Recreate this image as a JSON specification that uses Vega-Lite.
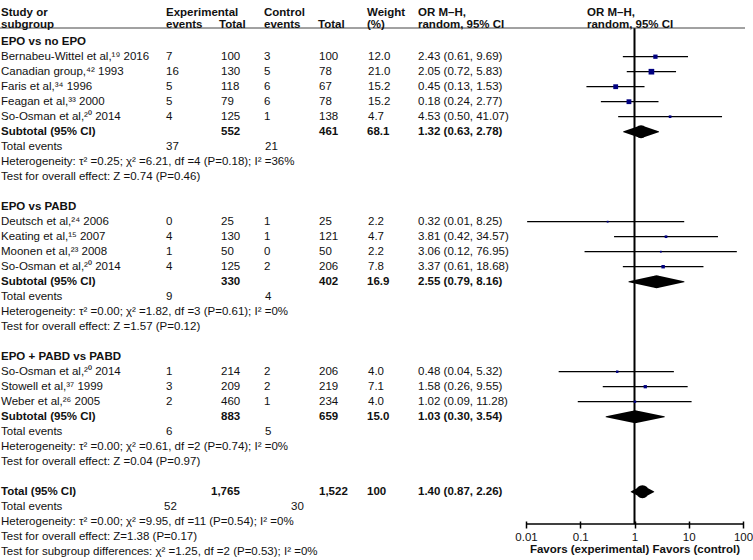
{
  "$schema": "https://vega.github.io/schema/vega-lite/v6.json",
  "width": 753,
  "height": 524,
  "autosize": {"type": "none"},
  "padding": {"left": 0, "top": 0, "right": 0, "bottom": 36},
  "background": "white",
  "config": {
    "view": {"stroke": null},
    "text": {"font": "Liberation Sans, Noto Sans", "fontSize": 11.5, "baseline": "middle", "align": "left", "lineBreak": "\n", "lineHeight": 12, "color": "#111111"}
  },
  "datasets": {
    "header": [
      {"row": -1.913, "study": "Study or\nsubgroup", "ee": "Experimental\nevents", "et": "\nTotal", "ce": "Control\nevents", "ct": "\nTotal", "w": "Weight\n(%)", "ortxt": "OR M–H,\nrandom, 95% CI", "plot": "OR M–H,\nrandom, 95% CI"}
    ],
    "groups": [
      {"row": 0, "label": "EPO vs no EPO"},
      {"row": 11, "label": "EPO vs PABD"},
      {"row": 21, "label": "EPO + PABD vs PABD"}
    ],
    "studies": [
      {"row": 1, "study": "Bernabeu-Wittel et al,¹⁹ 2016", "ee": "7", "et": "100", "ce": "3", "ct": "100", "w": 12.0, "wtxt": "12.0", "ortxt": "2.43 (0.61, 9.69)", "or": 2.43, "lo": 0.61, "hi": 9.69},
      {"row": 2, "study": "Canadian group,⁴² 1993", "ee": "16", "et": "130", "ce": "5", "ct": "78", "w": 21.0, "wtxt": "21.0", "ortxt": "2.05 (0.72, 5.83)", "or": 2.05, "lo": 0.72, "hi": 5.83},
      {"row": 3, "study": "Faris et al,³⁴ 1996", "ee": "5", "et": "118", "ce": "6", "ct": "67", "w": 15.2, "wtxt": "15.2", "ortxt": "0.45 (0.13, 1.53)", "or": 0.45, "lo": 0.13, "hi": 1.53},
      {"row": 4, "study": "Feagan et al,³³ 2000", "ee": "5", "et": "79", "ce": "6", "ct": "78", "w": 15.2, "wtxt": "15.2", "ortxt": "0.18 (0.24, 2.77)", "or": 0.79, "lo": 0.24, "hi": 2.77},
      {"row": 5, "study": "So-Osman et al,²⁰ 2014", "ee": "4", "et": "125", "ce": "1", "ct": "138", "w": 4.7, "wtxt": "4.7", "ortxt": "4.53 (0.50, 41.07)", "or": 4.53, "lo": 0.50, "hi": 41.07},
      {"row": 12, "study": "Deutsch et al,²⁴ 2006", "ee": "0", "et": "25", "ce": "1", "ct": "25", "w": 2.2, "wtxt": "2.2", "ortxt": "0.32 (0.01, 8.25)", "or": 0.32, "lo": 0.0105, "hi": 8.25},
      {"row": 13, "study": "Keating et al,¹⁵ 2007", "ee": "4", "et": "130", "ce": "1", "ct": "121", "w": 4.7, "wtxt": "4.7", "ortxt": "3.81 (0.42, 34.57)", "or": 3.81, "lo": 0.42, "hi": 34.57},
      {"row": 14, "study": "Moonen et al,²³ 2008", "ee": "1", "et": "50", "ce": "0", "ct": "50", "w": 2.2, "wtxt": "2.2", "ortxt": "3.06 (0.12, 76.95)", "or": 3.06, "lo": 0.12, "hi": 76.95},
      {"row": 15, "study": "So-Osman et al,²⁰ 2014", "ee": "4", "et": "125", "ce": "2", "ct": "206", "w": 7.8, "wtxt": "7.8", "ortxt": "3.37 (0.61, 18.68)", "or": 3.37, "lo": 0.61, "hi": 18.68},
      {"row": 22, "study": "So-Osman et al,²⁰ 2014", "ee": "1", "et": "214", "ce": "2", "ct": "206", "w": 4.0, "wtxt": "4.0", "ortxt": "0.48 (0.04, 5.32)", "or": 0.48, "lo": 0.04, "hi": 5.32},
      {"row": 23, "study": "Stowell et al,³⁷ 1999", "ee": "3", "et": "209", "ce": "2", "ct": "219", "w": 7.1, "wtxt": "7.1", "ortxt": "1.58 (0.26, 9.55)", "or": 1.58, "lo": 0.26, "hi": 9.55},
      {"row": 24, "study": "Weber et al,²⁶ 2005", "ee": "2", "et": "460", "ce": "1", "ct": "234", "w": 4.0, "wtxt": "4.0", "ortxt": "1.02 (0.09, 11.28)", "or": 1.02, "lo": 0.09, "hi": 11.28}
    ],
    "pooled": [
      {"row": 6, "label": "Subtotal (95% CI)", "et": "552", "ct": "461", "w": "68.1", "ortxt": "1.32 (0.63, 2.78)", "or": 1.32, "lo": 0.63, "hi": 2.78},
      {"row": 16, "label": "Subtotal (95% CI)", "et": "330", "ct": "402", "w": "16.9", "ortxt": "2.55 (0.79, 8.16)", "or": 2.55, "lo": 0.79, "hi": 8.16},
      {"row": 25, "label": "Subtotal (95% CI)", "et": "883", "ct": "659", "w": "15.0", "ortxt": "1.03 (0.30, 3.54)", "or": 1.03, "lo": 0.30, "hi": 3.54},
      {"row": 30, "label": "Total (95% CI)", "et": "1,765", "ct": "1,522", "w": "100", "ortxt": "1.40 (0.87, 2.26)", "or": 1.40, "lo": 0.87, "hi": 2.26}
    ],
    "events": [
      {"row": 7, "label": "Total events", "ee": "37", "ce": "21"},
      {"row": 17, "label": "Total events", "ee": "9", "ce": "4"},
      {"row": 26, "label": "Total events", "ee": "6", "ce": "5"},
      {"row": 31, "label": "Total events", "ee": "52", "ce": "30"}
    ],
    "notes": [
      {"row": 8, "label": "Heterogeneity: τ² =0.25; χ² =6.21, df =4 (P=0.18); I² =36%"},
      {"row": 9, "label": "Test for overall effect: Z =0.74 (P=0.46)"},
      {"row": 18, "label": "Heterogeneity: τ² =0.00; χ² =1.82, df =3 (P=0.61); I² =0%"},
      {"row": 19, "label": "Test for overall effect: Z =1.57 (P=0.12)"},
      {"row": 27, "label": "Heterogeneity: τ² =0.00; χ² =0.61, df =2 (P=0.74); I² =0%"},
      {"row": 28, "label": "Test for overall effect: Z =0.04 (P=0.97)"},
      {"row": 32, "label": "Heterogeneity: τ² =0.00; χ² =9.95, df =11 (P=0.54); I² =0%"},
      {"row": 33, "label": "Test for overall effect: Z=1.38 (P=0.17)"},
      {"row": 34, "label": "Test for subgroup differences: χ² =1.25, df =2 (P=0.53); I² =0%"}
    ]
  },
  "encoding": {
    "y": {"field": "row", "type": "quantitative", "scale": {"domain": [-2.78, 32.153], "reverse": true, "nice": false, "zero": false}, "axis": null}
  },
  "layer": [
    {
      "layer": [
        {
          "data": {"name": "header"},
          "mark": {"type": "rule", "color": "black", "strokeWidth": 1.5},
          "encoding": {
            "x": {"datum": 0.01, "type": "quantitative", "scale": {"type": "log", "domain": [0.01, 100], "range": [526, 743], "nice": false}, "axis": {"orient": "bottom", "values": [0.01, 0.1, 1, 10, 100], "format": ".2~f", "title": "Favors (experimental) Favors (control)", "domain": false, "offset": -3, "tickSize": 7, "tickColor": "black", "tickWidth": 1.5, "labelFont": "Liberation Sans", "labelFontSize": 11.5, "labelColor": "#111111", "labelPadding": 3, "labelFlush": false, "labelOverlap": false, "titleFont": "Liberation Sans", "titleFontSize": 11.5, "titleFontWeight": "bold", "titleColor": "#111111", "titlePadding": 1, "grid": false}},
            "x2": {"datum": 100},
            "y": {"value": "height"}
          }
        },
        {
          "data": {"name": "header"},
          "mark": {"type": "rule", "color": "black", "strokeWidth": 2},
          "encoding": {
            "x": {"datum": 1, "type": "quantitative", "scale": {"type": "log", "domain": [0.01, 100], "range": [526, 743], "nice": false}, "axis": {"orient": "bottom", "values": [0.01, 0.1, 1, 10, 100], "format": ".2~f", "title": "Favors (experimental) Favors (control)", "domain": false, "offset": -3, "tickSize": 7, "tickColor": "black", "tickWidth": 1.5, "labelFont": "Liberation Sans", "labelFontSize": 11.5, "labelColor": "#111111", "labelPadding": 3, "labelFlush": false, "labelOverlap": false, "titleFont": "Liberation Sans", "titleFontSize": 11.5, "titleFontWeight": "bold", "titleColor": "#111111", "titlePadding": 1, "grid": false}},
            "y": {"datum": -0.913, "type": "quantitative"},
            "y2": {"value": "height"}
          }
        },
        {
          "data": {"name": "studies"},
          "mark": {"type": "rule", "color": "black", "strokeWidth": 1.3},
          "encoding": {
            "x": {"field": "lo", "type": "quantitative", "scale": {"type": "log", "domain": [0.01, 100], "range": [526, 743], "nice": false}, "axis": {"orient": "bottom", "values": [0.01, 0.1, 1, 10, 100], "format": ".2~f", "title": "Favors (experimental) Favors (control)", "domain": false, "offset": -3, "tickSize": 7, "tickColor": "black", "tickWidth": 1.5, "labelFont": "Liberation Sans", "labelFontSize": 11.5, "labelColor": "#111111", "labelPadding": 3, "labelFlush": false, "labelOverlap": false, "titleFont": "Liberation Sans", "titleFontSize": 11.5, "titleFontWeight": "bold", "titleColor": "#111111", "titlePadding": 1, "grid": false}},
            "x2": {"field": "hi"}
          }
        },
        {
          "data": {"name": "studies"},
          "mark": {"type": "point", "shape": "square", "filled": true, "color": "#000080", "opacity": 1, "strokeWidth": 0},
          "encoding": {
            "x": {"field": "or", "type": "quantitative", "scale": {"type": "log", "domain": [0.01, 100], "range": [526, 743], "nice": false}, "axis": {"orient": "bottom", "values": [0.01, 0.1, 1, 10, 100], "format": ".2~f", "title": "Favors (experimental) Favors (control)", "domain": false, "offset": -3, "tickSize": 7, "tickColor": "black", "tickWidth": 1.5, "labelFont": "Liberation Sans", "labelFontSize": 11.5, "labelColor": "#111111", "labelPadding": 3, "labelFlush": false, "labelOverlap": false, "titleFont": "Liberation Sans", "titleFontSize": 11.5, "titleFontWeight": "bold", "titleColor": "#111111", "titlePadding": 1, "grid": false}},
            "size": {"field": "w", "type": "quantitative", "scale": {"domain": [0, 21], "range": [0, 32]}, "legend": null}
          }
        },
        {
          "data": {"name": "pooled"},
          "transform": [{"fold": ["lo", "or", "hi"], "as": ["k", "v"]}],
          "mark": {"type": "trail", "color": "black"},
          "encoding": {
            "x": {"field": "v", "type": "quantitative", "scale": {"type": "log", "domain": [0.01, 100], "range": [526, 743], "nice": false}, "axis": {"orient": "bottom", "values": [0.01, 0.1, 1, 10, 100], "format": ".2~f", "title": "Favors (experimental) Favors (control)", "domain": false, "offset": -3, "tickSize": 7, "tickColor": "black", "tickWidth": 1.5, "labelFont": "Liberation Sans", "labelFontSize": 11.5, "labelColor": "#111111", "labelPadding": 3, "labelFlush": false, "labelOverlap": false, "titleFont": "Liberation Sans", "titleFontSize": 11.5, "titleFontWeight": "bold", "titleColor": "#111111", "titlePadding": 1, "grid": false}},
            "detail": {"field": "row", "type": "nominal"},
            "size": {"condition": {"test": "datum.k === 'or'", "value": 13}, "value": 0}
          }
        }
      ]
    },
    {
      "layer": [
        {
          "data": {"name": "header"},
          "mark": {"type": "rule", "color": "#444444", "strokeWidth": 1},
          "encoding": {
            "x": {"datum": 0, "type": "quantitative", "scale": {"domain": [0, 753], "nice": false, "zero": false}, "axis": null},
            "x2": {"datum": 745},
            "y": {"datum": -0.913, "type": "quantitative"}
          }
        },
        {"data": {"name": "header"}, "mark": {"type": "text", "fontWeight": "bold"}, "encoding": {"x": {"datum": 1, "type": "quantitative", "scale": {"domain": [0, 753], "nice": false, "zero": false}, "axis": null}, "text": {"field": "study", "type": "nominal"}}},
        {"data": {"name": "header"}, "mark": {"type": "text", "fontWeight": "bold"}, "encoding": {"x": {"datum": 166, "type": "quantitative", "scale": {"domain": [0, 753], "nice": false, "zero": false}, "axis": null}, "text": {"field": "ee", "type": "nominal"}}},
        {"data": {"name": "header"}, "mark": {"type": "text", "fontWeight": "bold"}, "encoding": {"x": {"datum": 219, "type": "quantitative", "scale": {"domain": [0, 753], "nice": false, "zero": false}, "axis": null}, "text": {"field": "et", "type": "nominal"}}},
        {"data": {"name": "header"}, "mark": {"type": "text", "fontWeight": "bold"}, "encoding": {"x": {"datum": 264, "type": "quantitative", "scale": {"domain": [0, 753], "nice": false, "zero": false}, "axis": null}, "text": {"field": "ce", "type": "nominal"}}},
        {"data": {"name": "header"}, "mark": {"type": "text", "fontWeight": "bold"}, "encoding": {"x": {"datum": 318, "type": "quantitative", "scale": {"domain": [0, 753], "nice": false, "zero": false}, "axis": null}, "text": {"field": "ct", "type": "nominal"}}},
        {"data": {"name": "header"}, "mark": {"type": "text", "fontWeight": "bold"}, "encoding": {"x": {"datum": 367, "type": "quantitative", "scale": {"domain": [0, 753], "nice": false, "zero": false}, "axis": null}, "text": {"field": "w", "type": "nominal"}}},
        {"data": {"name": "header"}, "mark": {"type": "text", "fontWeight": "bold"}, "encoding": {"x": {"datum": 418, "type": "quantitative", "scale": {"domain": [0, 753], "nice": false, "zero": false}, "axis": null}, "text": {"field": "ortxt", "type": "nominal"}}},
        {"data": {"name": "header"}, "mark": {"type": "text", "fontWeight": "bold"}, "encoding": {"x": {"datum": 587, "type": "quantitative", "scale": {"domain": [0, 753], "nice": false, "zero": false}, "axis": null}, "text": {"field": "plot", "type": "nominal"}}},
        {"data": {"name": "groups"}, "mark": {"type": "text", "fontWeight": "bold"}, "encoding": {"x": {"datum": 1, "type": "quantitative", "scale": {"domain": [0, 753], "nice": false, "zero": false}, "axis": null}, "text": {"field": "label", "type": "nominal"}}},
        {"data": {"name": "studies"}, "mark": {"type": "text"}, "encoding": {"x": {"datum": 1, "type": "quantitative", "scale": {"domain": [0, 753], "nice": false, "zero": false}, "axis": null}, "text": {"field": "study", "type": "nominal"}}},
        {"data": {"name": "studies"}, "mark": {"type": "text"}, "encoding": {"x": {"datum": 166, "type": "quantitative", "scale": {"domain": [0, 753], "nice": false, "zero": false}, "axis": null}, "text": {"field": "ee", "type": "nominal"}}},
        {"data": {"name": "studies"}, "mark": {"type": "text"}, "encoding": {"x": {"datum": 221, "type": "quantitative", "scale": {"domain": [0, 753], "nice": false, "zero": false}, "axis": null}, "text": {"field": "et", "type": "nominal"}}},
        {"data": {"name": "studies"}, "mark": {"type": "text"}, "encoding": {"x": {"datum": 264, "type": "quantitative", "scale": {"domain": [0, 753], "nice": false, "zero": false}, "axis": null}, "text": {"field": "ce", "type": "nominal"}}},
        {"data": {"name": "studies"}, "mark": {"type": "text"}, "encoding": {"x": {"datum": 319, "type": "quantitative", "scale": {"domain": [0, 753], "nice": false, "zero": false}, "axis": null}, "text": {"field": "ct", "type": "nominal"}}},
        {"data": {"name": "studies"}, "mark": {"type": "text"}, "encoding": {"x": {"datum": 368, "type": "quantitative", "scale": {"domain": [0, 753], "nice": false, "zero": false}, "axis": null}, "text": {"field": "wtxt", "type": "nominal"}}},
        {"data": {"name": "studies"}, "mark": {"type": "text"}, "encoding": {"x": {"datum": 418, "type": "quantitative", "scale": {"domain": [0, 753], "nice": false, "zero": false}, "axis": null}, "text": {"field": "ortxt", "type": "nominal"}}},
        {"data": {"name": "pooled"}, "mark": {"type": "text", "fontWeight": "bold"}, "encoding": {"x": {"datum": 1, "type": "quantitative", "scale": {"domain": [0, 753], "nice": false, "zero": false}, "axis": null}, "text": {"field": "label", "type": "nominal"}}},
        {"data": {"name": "pooled"}, "transform": [{"filter": "datum.row < 30"}], "mark": {"type": "text", "fontWeight": "bold"}, "encoding": {"x": {"datum": 221, "type": "quantitative", "scale": {"domain": [0, 753], "nice": false, "zero": false}, "axis": null}, "text": {"field": "et", "type": "nominal"}}},
        {"data": {"name": "pooled"}, "transform": [{"filter": "datum.row >= 30"}], "mark": {"type": "text", "fontWeight": "bold"}, "encoding": {"x": {"datum": 211, "type": "quantitative", "scale": {"domain": [0, 753], "nice": false, "zero": false}, "axis": null}, "text": {"field": "et", "type": "nominal"}}},
        {"data": {"name": "pooled"}, "mark": {"type": "text", "fontWeight": "bold"}, "encoding": {"x": {"datum": 319, "type": "quantitative", "scale": {"domain": [0, 753], "nice": false, "zero": false}, "axis": null}, "text": {"field": "ct", "type": "nominal"}}},
        {"data": {"name": "pooled"}, "mark": {"type": "text", "fontWeight": "bold"}, "encoding": {"x": {"datum": 367, "type": "quantitative", "scale": {"domain": [0, 753], "nice": false, "zero": false}, "axis": null}, "text": {"field": "w", "type": "nominal"}}},
        {"data": {"name": "pooled"}, "mark": {"type": "text", "fontWeight": "bold"}, "encoding": {"x": {"datum": 418, "type": "quantitative", "scale": {"domain": [0, 753], "nice": false, "zero": false}, "axis": null}, "text": {"field": "ortxt", "type": "nominal"}}},
        {"data": {"name": "events"}, "mark": {"type": "text"}, "encoding": {"x": {"datum": 1, "type": "quantitative", "scale": {"domain": [0, 753], "nice": false, "zero": false}, "axis": null}, "text": {"field": "label", "type": "nominal"}}},
        {"data": {"name": "events"}, "transform": [{"filter": "datum.row < 30"}], "mark": {"type": "text"}, "encoding": {"x": {"datum": 166, "type": "quantitative", "scale": {"domain": [0, 753], "nice": false, "zero": false}, "axis": null}, "text": {"field": "ee", "type": "nominal"}}},
        {"data": {"name": "events"}, "transform": [{"filter": "datum.row < 30"}], "mark": {"type": "text"}, "encoding": {"x": {"datum": 265, "type": "quantitative", "scale": {"domain": [0, 753], "nice": false, "zero": false}, "axis": null}, "text": {"field": "ce", "type": "nominal"}}},
        {"data": {"name": "events"}, "transform": [{"filter": "datum.row >= 30"}], "mark": {"type": "text"}, "encoding": {"x": {"datum": 164, "type": "quantitative", "scale": {"domain": [0, 753], "nice": false, "zero": false}, "axis": null}, "text": {"field": "ee", "type": "nominal"}}},
        {"data": {"name": "events"}, "transform": [{"filter": "datum.row >= 30"}], "mark": {"type": "text"}, "encoding": {"x": {"datum": 291, "type": "quantitative", "scale": {"domain": [0, 753], "nice": false, "zero": false}, "axis": null}, "text": {"field": "ce", "type": "nominal"}}},
        {"data": {"name": "notes"}, "mark": {"type": "text"}, "encoding": {"x": {"datum": 1, "type": "quantitative", "scale": {"domain": [0, 753], "nice": false, "zero": false}, "axis": null}, "text": {"field": "label", "type": "nominal"}}}
      ]
    }
  ],
  "resolve": {"scale": {"x": "independent"}}
}
